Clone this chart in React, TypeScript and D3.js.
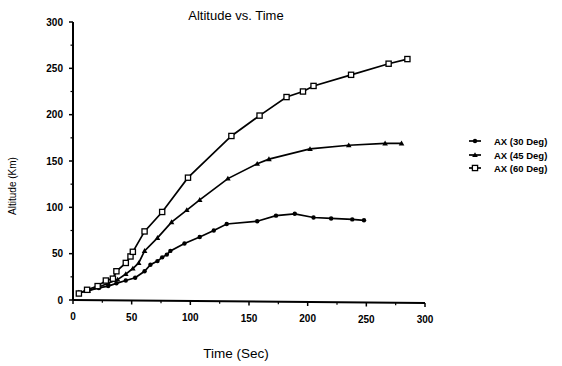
import React from "react";
import * as d3 from "d3";

const seriesNames = ["AX (30 Deg)", "AX (45 Deg)", "AX (60 Deg)"];

const time30 = [5, 13, 22, 30, 37, 45, 53, 61, 66, 72, 76, 80, 83, 95, 108, 120, 131, 157, 173, 189, 205, 220, 238, 248];
const alt30 = [8, 10, 13, 15, 18, 21, 24, 31, 38, 42, 46, 49, 53, 61, 68, 75, 82, 85, 91, 93, 89, 88, 87, 86];

const time45 = [5, 13, 22, 30, 38, 45, 51, 56, 61, 72, 84, 97, 108, 132, 157, 167, 202, 235, 266, 280];
const alt45 = [8, 10, 14, 18, 22, 28, 34, 40, 53, 67, 84, 97, 108, 131, 147, 152, 163, 167, 169, 169];

const time60 = [5, 12, 21, 28, 34, 37, 45, 49, 51, 61, 76, 98, 135, 159, 182, 196, 205, 237, 269, 285];
const alt60 = [7, 11, 15, 21, 23, 31, 40, 47, 52, 74, 95, 132, 177, 199, 219, 225, 231, 243, 255, 260];

const xTicks = [0, 50, 100, 150, 200, 250, 300];
const yTicks = [0, 50, 100, 150, 200, 250, 300];
const minorTicks = [25, 75, 125, 175, 225, 275];

const W = 562;
const H = 366;

export default function App() {
  const x = d3.scaleLinear().domain([0, 300]).range([73, 425]);
  const y = d3.scaleLinear().domain([0, 300]).range([300, 22]);
  const line = d3
    .line<[number, number]>()
    .x((d) => x(d[0]))
    .y((d) => y(d[1]));

  const s30: [number, number][] = time30.map((t, i) => [t, alt30[i]]);
  const s45: [number, number][] = time45.map((t, i) => [t, alt45[i]]);
  const s60: [number, number][] = time60.map((t, i) => [t, alt60[i]]);

  const font = "'Liberation Sans', Arial, sans-serif";

  const circle = (cx: number, cy: number, key: any) => (
    <circle key={key} cx={cx} cy={cy} r={2.2} fill="#000" />
  );
  const tri = (cx: number, cy: number, key: any) => (
    <path key={key} d={`M${cx},${cy - 2.8}L${cx + 2.8},${cy + 2}L${cx - 2.8},${cy + 2}Z`} fill="#000" />
  );
  const sq = (cx: number, cy: number, key: any) => (
    <rect key={key} x={cx - 2.6} y={cy - 2.6} width={5.2} height={5.2} fill="#fff" stroke="#000" strokeWidth={1.3} />
  );

  const legendY = [141, 155, 168];
  const markers = [circle, tri, sq];

  return (
    <svg width={W} height={H} style={{ position: "absolute", left: 0, top: 0, background: "#fff" }} fontFamily={font}>
      <rect width={W} height={H} fill="#fff" />
      <text x={236} y={20} textAnchor="middle" fontSize={13} fill="#000">
        Altitude vs. Time
      </text>
      {/* axes */}
      <line x1={x(0)} x2={x(0)} y1={y(300)} y2={y(0)} stroke="#000" strokeWidth={2} />
      <line x1={x(0)} x2={x(300)} y1={y(0)} y2={y(0) + 3} stroke="#000" strokeWidth={2} />
      {yTicks.map((t) => (
        <g key={"yt" + t}>
          <line x1={x(0) - 4} x2={x(0)} y1={y(t)} y2={y(t)} stroke="#000" strokeWidth={1.5} />
          <text x={x(0) - 10} y={y(t) + 3.5} textAnchor="end" fontSize={10} fontWeight="bold" fill="#000">
            {t}
          </text>
        </g>
      ))}
      {minorTicks.map((t) => (
        <line key={"ym" + t} x1={x(0) - 2.5} x2={x(0)} y1={y(t)} y2={y(t)} stroke="#000" strokeWidth={1.2} />
      ))}
      {xTicks.map((t) => (
        <g key={"xt" + t}>
          <line x1={x(t)} x2={x(t)} y1={y(0) + t / 100} y2={y(0) + t / 100 + 4} stroke="#000" strokeWidth={1.5} />
          <text x={x(t)} y={y(0) + 20 + t / 100} textAnchor="middle" fontSize={10} fontWeight="bold" fill="#000">
            {t}
          </text>
        </g>
      ))}
      {minorTicks.map((t) => (
        <line key={"xm" + t} x1={x(t)} x2={x(t)} y1={y(0) + t / 100} y2={y(0) + t / 100 + 2.5} stroke="#000" strokeWidth={1.2} />
      ))}
      <text
        transform={`translate(16,${186}) rotate(-90)`}
        textAnchor="middle"
        fontSize={10}
        fill="#000"
      >
        Altitude (Km)
      </text>
      <text x={236} y={358} textAnchor="middle" fontSize={13.5} fill="#000">
        Time (Sec)
      </text>
      {/* series */}
      <path d={line(s30) || ""} fill="none" stroke="#000" strokeWidth={1.7} />
      <path d={line(s45) || ""} fill="none" stroke="#000" strokeWidth={1.7} />
      <path d={line(s60) || ""} fill="none" stroke="#000" strokeWidth={1.7} />
      {s30.map((d, i) => circle(x(d[0]), y(d[1]), "c" + i))}
      {s45.map((d, i) => tri(x(d[0]), y(d[1]), "t" + i))}
      {s60.map((d, i) => sq(x(d[0]), y(d[1]), "s" + i))}
      {/* legend */}
      {seriesNames.map((n, i) => (
        <g key={n}>
          <line x1={469} x2={481} y1={legendY[i]} y2={legendY[i]} stroke="#000" strokeWidth={1.7} />
          {markers[i](475, legendY[i], "lm" + i)}
          <text x={494} y={legendY[i] + 3.5} fontSize={9.5} fontWeight="bold" fill="#000">
            {n}
          </text>
        </g>
      ))}
    </svg>
  );
}
